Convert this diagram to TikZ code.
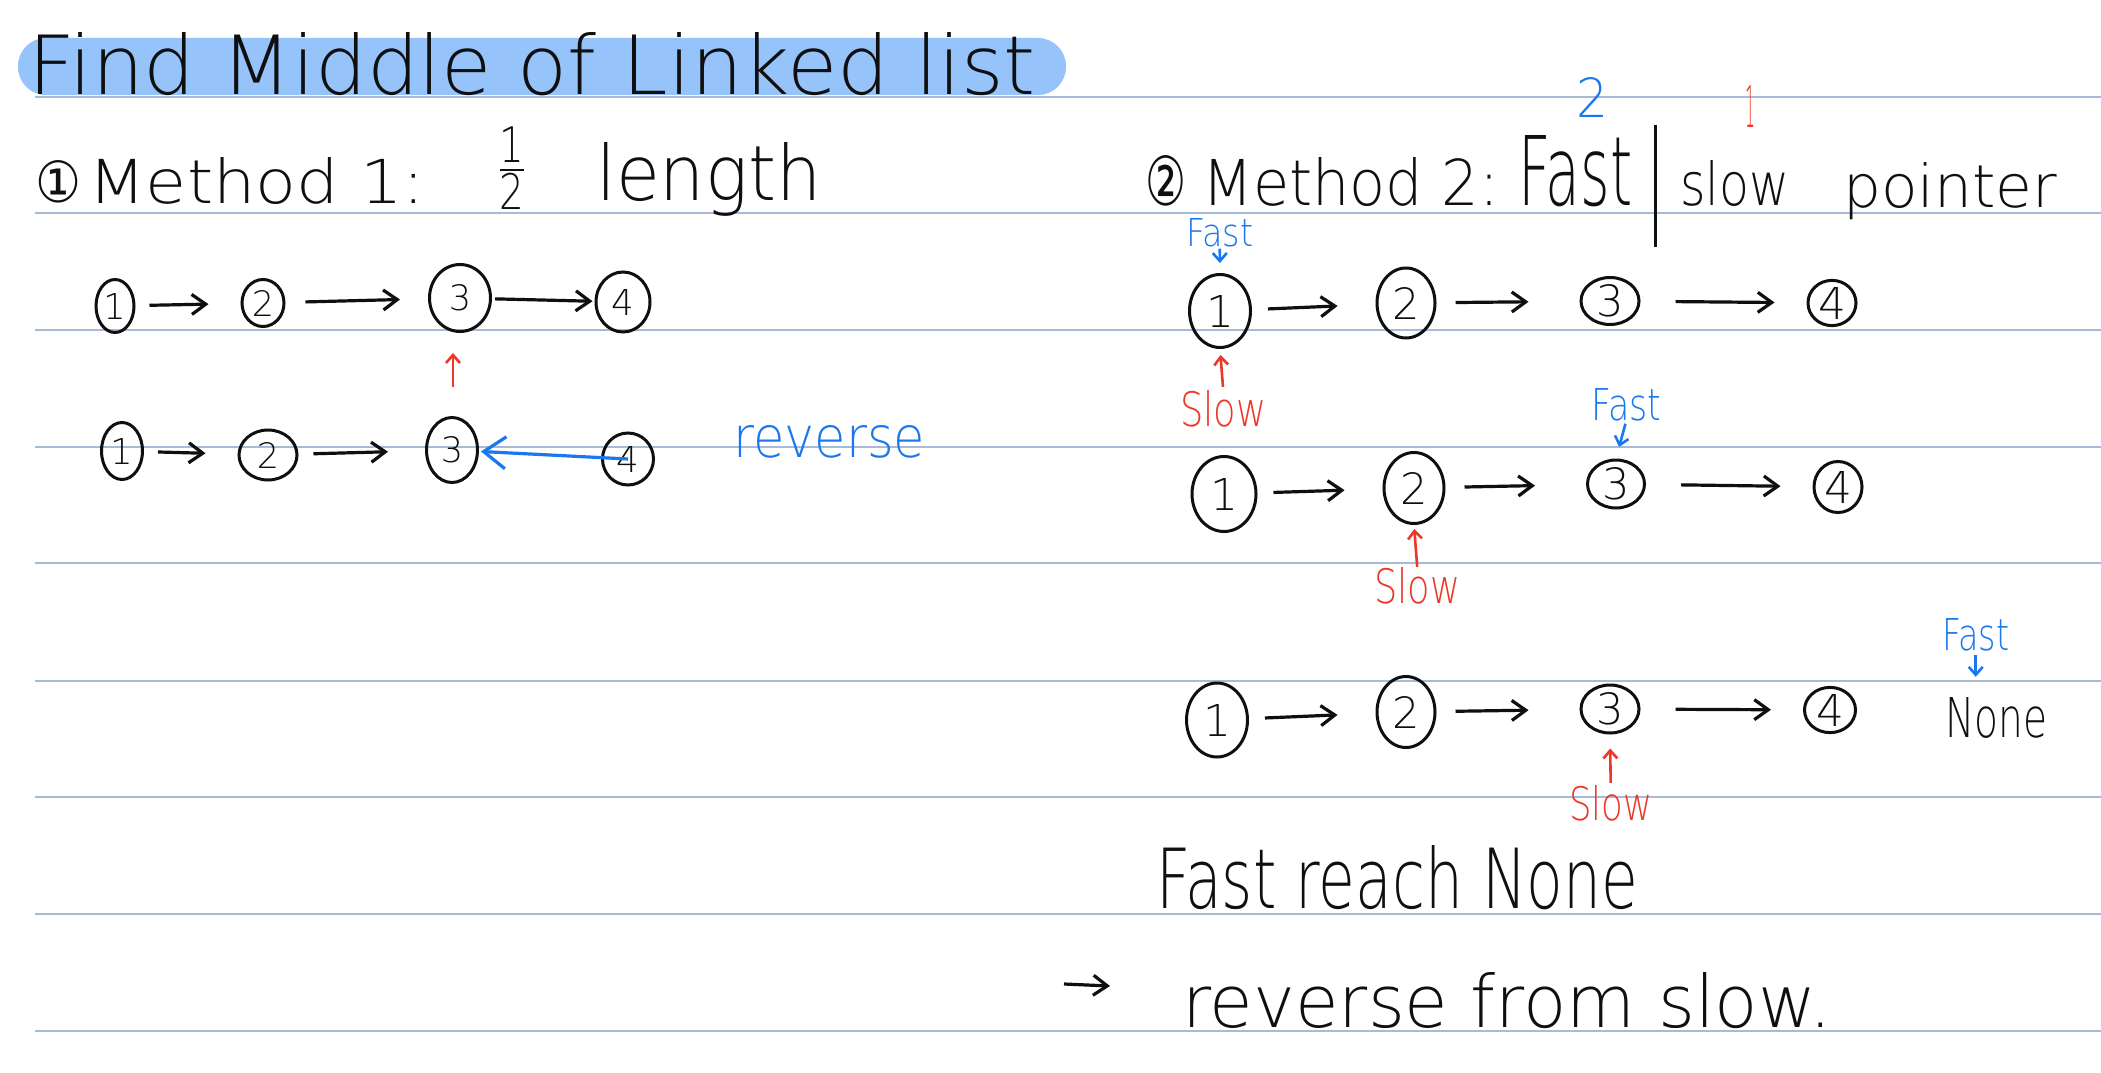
\documentclass[tikz,border=0pt]{standalone}
\usepackage{fontspec}
\usepackage{graphicx}
\setmainfont{Liberation Sans}
\newfontfamily\hand{DejaVu Sans ExtraLight}
\newfontfamily\sym{DejaVu Sans}
\usetikzlibrary{shapes.geometric,arrows.meta}
\definecolor{ruleblue}{RGB}{168,186,216}
\definecolor{hl}{RGB}{150,195,250}
\definecolor{pen}{RGB}{15,15,15}
\definecolor{penblue}{RGB}{25,120,240}
\definecolor{penred}{RGB}{238,55,40}
\newcommand\hw[3]{\resizebox{#1pt}{#2pt}{\hand #3}}
\newcommand\dg[1]{\resizebox{!}{26pt}{\hand #1}}
\newcommand\dgb[1]{\resizebox{!}{32pt}{\hand #1}}
\begin{document}
\begin{tikzpicture}[x=1pt,y=-1pt,
  rule/.style={draw=ruleblue,line width=2pt},
  nd/.style 2 args={ellipse,draw=pen,line width=3pt,minimum width=#1pt,minimum height=#2pt,inner sep=0pt,text=pen},
  lbl/.style={anchor=base west,inner sep=0pt,text=pen},
  arr/.style={draw=pen,line width=3.2pt,-{Straight Barb[length=14pt,width=20pt]},shorten <=14pt,shorten >=32pt},
  parr/.style={line width=2.6pt,-{Straight Barb[length=8pt,width=14pt]}}]
\fill[white] (0,0) rectangle (2101,1073);
\useasboundingbox (0,0) rectangle (2101,1073);
% ruled lines
\foreach \yy in {97,213,330,447,563,681,797,914,1031}
  \draw[rule] (35,\yy) -- (2101,\yy);
% title
\fill[hl, rounded corners=28pt] (18,38) rectangle (1066,95);
\node[lbl] (title) at (28,94) {\hw{1007}{62}{Find Middle of Linked list}};
% method 1 heading
\node[lbl] (m1c) at (35,202) {\resizebox{46pt}{42pt}{\sym ①}};
\node[lbl] (m1) at (88,203) {\hw{337}{46}{Method 1:}};
\node[inner sep=0pt,text=pen] (half) at (512,168) {\resizebox*{34pt}{82pt}{$\frac{\mbox{\hand 1}}{\mbox{\hand 2}}$}};
\node[lbl] (len) at (596,200) {\hw{225}{58}{length}};
% method 2 heading
\node[lbl] (m2c) at (1145,205) {\resizebox{41pt}{50pt}{\sym ②}};
\node[lbl] (m2) at (1202,205) {\hw{297}{48}{Method 2:}};
\node[lbl] (fst) at (1518,205) {\hw{114}{70}{Fast}};
\coordinate (bar1) at (1655,125);
\coordinate (bar2) at (1655,247);
\draw[pen,line width=3pt] (bar1) -- (bar2);
\node[lbl] (slw) at (1680,205) {\hw{109}{45}{slow}};
\node[lbl] (ptr) at (1843,207) {\hw{214}{45}{pointer}};
\node[inner sep=0pt,text=penblue] (sp2) at (1592,97) {\hw{32}{40}{2}};
\node[inner sep=0pt,text=penred] (sp1) at (1750,106) {\hw{10}{42}{1}};
% method 1 row A
\node[nd={38}{53}] (a1) at (115,306) {\dg{1}};
\node[nd={42}{47}] (a2) at (263,303) {\dg{2}};
\node[nd={61}{67}] (a3) at (460,298) {\dg{3}};
\node[nd={54}{60}] (a4) at (623,302) {\dg{4}};
\draw[arr] (a1) -- (a2);
\draw[arr,shorten <=20pt,shorten >=28pt] (a2) -- (a3);
\draw[arr,shorten <=3pt,shorten >=2pt] (a3) -- (a4);
\coordinate (ra1) at (453,387);
\coordinate (ra2) at (453,353);
\draw[parr,penred] (ra1) -- (ra2);
% method 1 row B
\node[nd={41}{57}] (b1) at (122,451) {\dg{1}};
\node[nd={58}{50}] (b2) at (268,455) {\dg{2}};
\node[nd={51}{65}] (b3) at (452,450) {\dg{3}};
\node[nd={51}{52}] (b4) at (628,459) {\dg{4}};
\draw[arr] (b1) -- (b2);
\draw[arr,shorten <=15pt,shorten >=37pt] (b2) -- (b3);
\draw[arr,draw=penblue,shorten <=0pt,shorten >=2pt,-{Straight Barb[length=22pt,width=32pt]}] (b4.center) -- (b3);
\node[lbl,text=penblue] (rev) at (733,457) {\hw{192}{32}{reverse}};
% method 2 row 1
\node[nd={61}{73}] (c1) at (1220,311) {\dgb{1}};
\node[nd={58}{70}] (c2) at (1406,303) {\dgb{2}};
\node[nd={58}{47}] (c3) at (1610,301) {\dgb{3}};
\node[nd={48}{45}] (c4) at (1832,303) {\dgb{4}};
\draw[arr,shorten <=16pt,shorten >=38pt] (c1) -- (c2);
\draw[arr,shorten <=19pt,shorten >=51pt] (c2) -- (c3);
\draw[arr,shorten <=35pt,shorten >=32pt] (c3) -- (c4);
\node[lbl,text=penblue] (f1) at (1186,246) {\hw{67}{28}{Fast}};
\draw[parr,penblue,shorten <=2pt,shorten >=10pt] (f1.south) -- (c1.north);
\node[lbl,text=penred] (s1) at (1180,426) {\hw{86}{36}{Slow}};
\draw[parr,penred,shorten <=3pt,shorten >=6pt] (s1.north) -- (c1.south);
% method 2 row 2
\node[nd={64}{75}] (d1) at (1224,494) {\dgb{1}};
\node[nd={60}{71}] (d2) at (1414,488) {\dgb{2}};
\node[nd={57}{48}] (d3) at (1616,484) {\dgb{3}};
\node[nd={48}{51}] (d4) at (1838,487) {\dgb{4}};
\draw[arr,shorten <=16pt,shorten >=38pt] (d1) -- (d2);
\draw[arr,shorten <=19pt,shorten >=51pt] (d2) -- (d3);
\draw[arr,shorten <=35pt,shorten >=32pt] (d3) -- (d4);
\node[lbl,text=penblue] (f2) at (1591,420) {\hw{70}{32}{Fast}};
\draw[parr,penblue,shorten <=3pt,shorten >=12pt] (f2.south) -- (d3.north);
\node[lbl,text=penred] (s2) at (1374,603) {\hw{86}{36}{Slow}};
\draw[parr,penred,shorten <=0pt,shorten >=4pt] (s2.north) -- (d2.south);
% method 2 row 3
\node[nd={61}{74}] (e1) at (1217,720) {\dgb{1}};
\node[nd={58}{71}] (e2) at (1406,712) {\dgb{2}};
\node[nd={58}{48}] (e3) at (1610,709) {\dgb{3}};
\node[nd={51}{45}] (e4) at (1830,710) {\dgb{4}};
\draw[arr,shorten <=16pt,shorten >=38pt] (e1) -- (e2);
\draw[arr,shorten <=19pt,shorten >=51pt] (e2) -- (e3);
\draw[arr,shorten <=35pt,shorten >=32pt] (e3) -- (e4);
\node[lbl] (none) at (1945,737) {\hw{102}{40}{None}};
\node[lbl,text=penblue] (f3) at (1942,650) {\hw{67}{32}{Fast}};
\draw[parr,penblue,shorten <=4pt,shorten >=20pt] (f3.south) -- (f3.south |- none.north);
\node[lbl,text=penred] (s3) at (1569,820) {\hw{83}{35}{Slow}};
\draw[parr,penred,shorten <=2pt,shorten >=14pt] (s3.north) -- (e3.south);
% conclusion
\node[lbl] (fr) at (1156,908) {\hw{482}{63}{Fast reach None}};
\coordinate (h1) at (1064,984);
\coordinate (h2) at (1110,986);
\draw[arr,shorten <=0pt,shorten >=0pt] (h1) -- (h2);
\node[lbl] (rv) at (1182,1027) {\hw{650}{55}{reverse from slow.}};
\end{tikzpicture}
\end{document}
